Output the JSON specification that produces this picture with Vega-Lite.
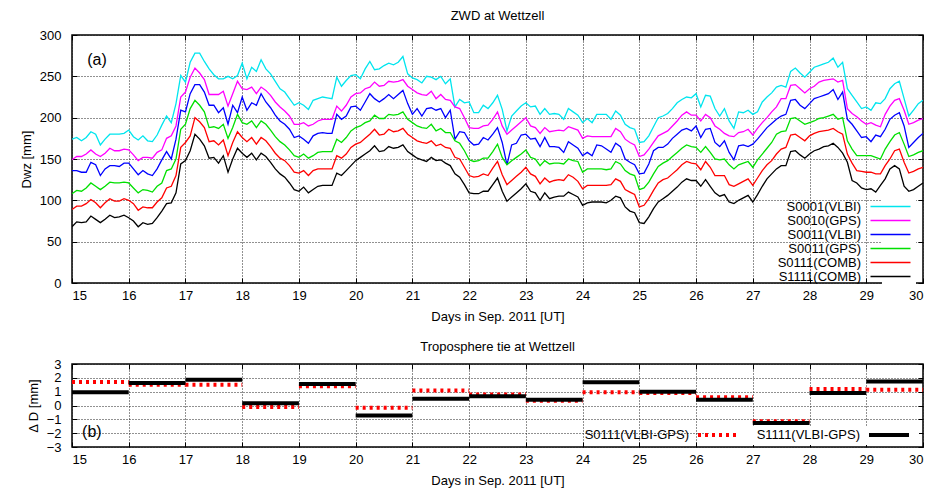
{
"$schema": "https://vega.github.io/schema/vega-lite/v6.json",
"padding": {"left": 19, "top": 9, "right": 5, "bottom": 5},
"spacing": 16,
"resolve": {"scale": {"color": "independent", "strokeDash": "independent"}, "legend": {"color": "independent", "strokeDash": "independent"}},
"config": {
  "font": "Liberation Sans",
  "view": {"stroke": "black", "strokeWidth": 1.5},
  "axis": {"domain": false, "grid": true, "gridColor": "#222", "gridDash": [1, 2], "gridOpacity": 1, "gridWidth": 1, "tickColor": "black", "tickSize": -5, "tickWidth": 1, "labelOverlap": false, "labelFont": "Liberation Sans", "labelFontSize": 13, "labelColor": "black", "titleFont": "Liberation Sans", "titleFontSize": 13, "titleFontWeight": "normal", "titleColor": "black"},
  "title": {"font": "Liberation Sans", "fontSize": 13, "fontWeight": "normal", "color": "black"}
},
"vconcat": [
{
  "width": 851, "height": 248,
  "title": {"text": "ZWD at Wettzell", "offset": 6},
  "layer": [
  {
    "data": {"values": [
{"t":15,"a":174,"b":149,"c":136,"d":108,"e":89,"f":68},
{"t":15.083,"a":176,"b":153,"c":136,"d":112,"e":93,"f":74},
{"t":15.167,"a":172,"b":153,"c":134,"d":111,"e":93,"f":73},
{"t":15.25,"a":176,"b":156,"c":134,"d":115,"e":96,"f":74},
{"t":15.333,"a":183,"b":161,"c":146,"d":121,"e":101,"f":81},
{"t":15.417,"a":180,"b":156,"c":143,"d":117,"e":97,"f":77},
{"t":15.5,"a":167,"b":153,"c":130,"d":113,"e":91,"f":73},
{"t":15.583,"a":174,"b":157,"c":138,"d":117,"e":97,"f":77},
{"t":15.667,"a":180,"b":163,"c":142,"d":122,"e":102,"f":82},
{"t":15.75,"a":180,"b":160,"c":142,"d":121,"e":99,"f":79},
{"t":15.833,"a":180,"b":160,"c":141,"d":121,"e":99,"f":80},
{"t":15.917,"a":181,"b":162,"c":145,"d":122,"e":102,"f":82},
{"t":16,"a":185,"b":161,"c":145,"d":121,"e":100,"f":79},
{"t":16.083,"a":177,"b":155,"c":138,"d":115,"e":96,"f":75},
{"t":16.167,"a":173,"b":148,"c":131,"d":109,"e":88,"f":68},
{"t":16.25,"a":178,"b":152,"c":136,"d":113,"e":92,"f":73},
{"t":16.333,"a":172,"b":152,"c":132,"d":112,"e":91,"f":71},
{"t":16.417,"a":171,"b":151,"c":130,"d":110,"e":91,"f":72},
{"t":16.5,"a":179,"b":158,"c":138,"d":117,"e":98,"f":79},
{"t":16.583,"a":191,"b":161,"c":149,"d":121,"e":103,"f":87},
{"t":16.667,"a":202,"b":175,"c":159,"d":136,"e":115,"f":96},
{"t":16.75,"a":194,"b":178,"c":150,"d":138,"e":117,"f":97},
{"t":16.833,"a":217,"b":190,"c":174,"d":150,"e":130,"f":109},
{"t":16.917,"a":251,"b":225,"c":209,"d":186,"e":164,"f":144},
{"t":17,"a":243,"b":231,"c":207,"d":192,"e":170,"f":148},
{"t":17.083,"a":267,"b":249,"c":229,"d":211,"e":178,"f":160},
{"t":17.167,"a":278,"b":260,"c":240,"d":221,"e":200,"f":180},
{"t":17.25,"a":278,"b":254,"c":240,"d":215,"e":195,"f":174},
{"t":17.333,"a":268,"b":246,"c":231,"d":207,"e":188,"f":166},
{"t":17.417,"a":259,"b":228,"c":215,"d":188,"e":171,"f":151},
{"t":17.5,"a":252,"b":228,"c":215,"d":189,"e":172,"f":152},
{"t":17.583,"a":247,"b":228,"c":206,"d":187,"e":167,"f":145},
{"t":17.667,"a":247,"b":232,"c":212,"d":192,"e":173,"f":154},
{"t":17.75,"a":250,"b":214,"c":192,"d":175,"e":154,"f":134},
{"t":17.833,"a":247,"b":229,"c":215,"d":188,"e":170,"f":150},
{"t":17.917,"a":251,"b":244,"c":206,"d":204,"e":183,"f":163},
{"t":18,"a":266,"b":235,"c":225,"d":194,"e":176,"f":157},
{"t":18.083,"a":247,"b":234,"c":209,"d":192,"e":171,"f":152},
{"t":18.167,"a":261,"b":237,"c":218,"d":196,"e":176,"f":157},
{"t":18.25,"a":256,"b":229,"c":215,"d":188,"e":168,"f":149},
{"t":18.333,"a":270,"b":237,"c":229,"d":196,"e":176,"f":157},
{"t":18.417,"a":259,"b":233,"c":219,"d":192,"e":172,"f":153},
{"t":18.5,"a":253,"b":227,"c":212,"d":185,"e":165,"f":146},
{"t":18.583,"a":244,"b":219,"c":203,"d":177,"e":157,"f":138},
{"t":18.667,"a":235,"b":213,"c":196,"d":171,"e":151,"f":132},
{"t":18.75,"a":231,"b":208,"c":192,"d":167,"e":148,"f":128},
{"t":18.833,"a":223,"b":202,"c":186,"d":161,"e":142,"f":121},
{"t":18.917,"a":215,"b":192,"c":176,"d":154,"e":134,"f":113},
{"t":19,"a":218,"b":192,"c":178,"d":152,"e":133,"f":111},
{"t":19.083,"a":215,"b":194,"c":174,"d":156,"e":136,"f":116},
{"t":19.167,"a":210,"b":190,"c":169,"d":151,"e":130,"f":109},
{"t":19.25,"a":221,"b":192,"c":178,"d":154,"e":136,"f":113},
{"t":19.333,"a":223,"b":196,"c":181,"d":158,"e":138,"f":117},
{"t":19.417,"a":225,"b":198,"c":182,"d":159,"e":138,"f":118},
{"t":19.5,"a":224,"b":198,"c":181,"d":159,"e":138,"f":118},
{"t":19.583,"a":223,"b":198,"c":181,"d":159,"e":138,"f":118},
{"t":19.667,"a":249,"b":214,"c":204,"d":174,"e":154,"f":133},
{"t":19.75,"a":238,"b":208,"c":198,"d":170,"e":151,"f":130},
{"t":19.833,"a":245,"b":215,"c":202,"d":176,"e":156,"f":136},
{"t":19.917,"a":251,"b":225,"c":213,"d":184,"e":164,"f":142},
{"t":20,"a":252,"b":229,"c":214,"d":188,"e":168,"f":148},
{"t":20.083,"a":247,"b":230,"c":209,"d":190,"e":170,"f":152},
{"t":20.167,"a":259,"b":235,"c":219,"d":194,"e":175,"f":156},
{"t":20.25,"a":268,"b":237,"c":229,"d":196,"e":180,"f":160},
{"t":20.333,"a":258,"b":243,"c":223,"d":203,"e":186,"f":166},
{"t":20.417,"a":259,"b":238,"c":219,"d":199,"e":179,"f":159},
{"t":20.5,"a":263,"b":239,"c":223,"d":199,"e":180,"f":160},
{"t":20.583,"a":266,"b":244,"c":228,"d":204,"e":186,"f":165},
{"t":20.667,"a":264,"b":243,"c":223,"d":203,"e":183,"f":163},
{"t":20.75,"a":267,"b":244,"c":228,"d":204,"e":184,"f":164},
{"t":20.833,"a":274,"b":246,"c":233,"d":207,"e":187,"f":167},
{"t":20.917,"a":253,"b":238,"c":217,"d":198,"e":180,"f":159},
{"t":21,"a":248,"b":234,"c":204,"d":194,"e":176,"f":155},
{"t":21.083,"a":246,"b":230,"c":211,"d":190,"e":172,"f":151},
{"t":21.167,"a":242,"b":228,"c":202,"d":188,"e":170,"f":149},
{"t":21.25,"a":250,"b":227,"c":211,"d":187,"e":169,"f":147},
{"t":21.333,"a":249,"b":232,"c":212,"d":192,"e":172,"f":152},
{"t":21.417,"a":246,"b":223,"c":209,"d":184,"e":166,"f":148},
{"t":21.5,"a":250,"b":228,"c":211,"d":187,"e":168,"f":149},
{"t":21.583,"a":241,"b":222,"c":200,"d":182,"e":164,"f":145},
{"t":21.667,"a":247,"b":221,"c":209,"d":182,"e":163,"f":142},
{"t":21.75,"a":213,"b":213,"c":174,"d":172,"e":152,"f":132},
{"t":21.833,"a":222,"b":211,"c":183,"d":169,"e":150,"f":128},
{"t":21.917,"a":218,"b":200,"c":182,"d":160,"e":140,"f":119},
{"t":22,"a":219,"b":188,"c":172,"d":149,"e":130,"f":109},
{"t":22.083,"a":206,"b":187,"c":167,"d":147,"e":128,"f":108},
{"t":22.167,"a":206,"b":187,"c":168,"d":148,"e":129,"f":108},
{"t":22.25,"a":215,"b":190,"c":176,"d":151,"e":132,"f":111},
{"t":22.333,"a":211,"b":191,"c":173,"d":151,"e":130,"f":111},
{"t":22.417,"a":218,"b":198,"c":180,"d":159,"e":139,"f":119},
{"t":22.5,"a":227,"b":207,"c":188,"d":168,"e":147,"f":127},
{"t":22.583,"a":210,"b":190,"c":170,"d":152,"e":131,"f":111},
{"t":22.667,"a":184,"b":180,"c":143,"d":143,"e":119,"f":99},
{"t":22.75,"a":202,"b":185,"c":167,"d":148,"e":124,"f":104},
{"t":22.833,"a":208,"b":190,"c":169,"d":152,"e":129,"f":109},
{"t":22.917,"a":214,"b":195,"c":179,"d":156,"e":134,"f":114},
{"t":23,"a":218,"b":200,"c":180,"d":161,"e":140,"f":120},
{"t":23.083,"a":213,"b":190,"c":174,"d":152,"e":132,"f":111},
{"t":23.167,"a":214,"b":188,"c":175,"d":150,"e":129,"f":109},
{"t":23.25,"a":204,"b":181,"c":165,"d":142,"e":120,"f":100},
{"t":23.333,"a":211,"b":188,"c":176,"d":148,"e":127,"f":109},
{"t":23.417,"a":204,"b":183,"c":165,"d":144,"e":122,"f":102},
{"t":23.5,"a":205,"b":184,"c":165,"d":145,"e":124,"f":104},
{"t":23.583,"a":204,"b":185,"c":164,"d":145,"e":125,"f":105},
{"t":23.667,"a":198,"b":184,"c":158,"d":144,"e":124,"f":105},
{"t":23.75,"a":211,"b":189,"c":171,"d":150,"e":131,"f":110},
{"t":23.833,"a":207,"b":187,"c":167,"d":148,"e":128,"f":107},
{"t":23.917,"a":203,"b":185,"c":163,"d":147,"e":123,"f":104},
{"t":24,"a":194,"b":175,"c":154,"d":134,"e":114,"f":94},
{"t":24.083,"a":199,"b":178,"c":158,"d":138,"e":118,"f":97},
{"t":24.167,"a":194,"b":177,"c":154,"d":138,"e":118,"f":98},
{"t":24.25,"a":204,"b":177,"c":167,"d":138,"e":118,"f":98},
{"t":24.333,"a":204,"b":177,"c":166,"d":138,"e":118,"f":98},
{"t":24.417,"a":204,"b":177,"c":162,"d":137,"e":118,"f":97},
{"t":24.5,"a":198,"b":177,"c":158,"d":138,"e":119,"f":100},
{"t":24.583,"a":208,"b":187,"c":169,"d":147,"e":126,"f":105},
{"t":24.667,"a":203,"b":183,"c":165,"d":144,"e":123,"f":103},
{"t":24.75,"a":192,"b":174,"c":150,"d":136,"e":113,"f":92},
{"t":24.833,"a":188,"b":170,"c":146,"d":132,"e":110,"f":87},
{"t":24.917,"a":186,"b":167,"c":143,"d":130,"e":107,"f":85},
{"t":25,"a":170,"b":153,"c":132,"d":113,"e":92,"f":73},
{"t":25.083,"a":171,"b":155,"c":133,"d":115,"e":94,"f":72},
{"t":25.167,"a":178,"b":162,"c":144,"d":122,"e":102,"f":80},
{"t":25.25,"a":189,"b":170,"c":160,"d":132,"e":112,"f":90},
{"t":25.333,"a":200,"b":178,"c":164,"d":141,"e":121,"f":98},
{"t":25.417,"a":202,"b":181,"c":164,"d":145,"e":125,"f":102},
{"t":25.5,"a":205,"b":184,"c":168,"d":148,"e":127,"f":106},
{"t":25.583,"a":211,"b":190,"c":175,"d":153,"e":132,"f":111},
{"t":25.667,"a":218,"b":196,"c":180,"d":158,"e":137,"f":116},
{"t":25.75,"a":222,"b":203,"c":185,"d":163,"e":143,"f":122},
{"t":25.833,"a":225,"b":207,"c":187,"d":167,"e":147,"f":126},
{"t":25.917,"a":224,"b":203,"c":184,"d":165,"e":145,"f":124},
{"t":26,"a":229,"b":203,"c":190,"d":164,"e":144,"f":124},
{"t":26.083,"a":213,"b":196,"c":176,"d":158,"e":137,"f":117},
{"t":26.167,"a":227,"b":204,"c":186,"d":165,"e":147,"f":125},
{"t":26.25,"a":226,"b":200,"c":187,"d":158,"e":140,"f":117},
{"t":26.333,"a":211,"b":190,"c":170,"d":150,"e":130,"f":109},
{"t":26.417,"a":202,"b":186,"c":165,"d":149,"e":130,"f":105},
{"t":26.5,"a":211,"b":181,"c":172,"d":150,"e":130,"f":107},
{"t":26.583,"a":196,"b":178,"c":158,"d":143,"e":119,"f":98},
{"t":26.667,"a":187,"b":177,"c":149,"d":138,"e":117,"f":96},
{"t":26.75,"a":207,"b":182,"c":166,"d":143,"e":120,"f":100},
{"t":26.833,"a":206,"b":183,"c":167,"d":145,"e":123,"f":103},
{"t":26.917,"a":209,"b":186,"c":165,"d":147,"e":126,"f":106},
{"t":27,"a":204,"b":179,"c":168,"d":140,"e":118,"f":98},
{"t":27.083,"a":207,"b":187,"c":174,"d":149,"e":127,"f":107},
{"t":27.167,"a":219,"b":194,"c":181,"d":156,"e":136,"f":117},
{"t":27.25,"a":225,"b":200,"c":188,"d":163,"e":143,"f":126},
{"t":27.333,"a":230,"b":207,"c":193,"d":170,"e":148,"f":132},
{"t":27.417,"a":237,"b":213,"c":198,"d":180,"e":156,"f":138},
{"t":27.5,"a":239,"b":223,"c":202,"d":183,"e":162,"f":142},
{"t":27.583,"a":237,"b":223,"c":204,"d":184,"e":164,"f":142},
{"t":27.667,"a":256,"b":239,"c":221,"d":199,"e":179,"f":159},
{"t":27.75,"a":260,"b":240,"c":222,"d":200,"e":180,"f":160},
{"t":27.833,"a":254,"b":235,"c":215,"d":196,"e":176,"f":155},
{"t":27.917,"a":249,"b":230,"c":211,"d":192,"e":172,"f":151},
{"t":28,"a":255,"b":235,"c":217,"d":194,"e":178,"f":156},
{"t":28.083,"a":261,"b":238,"c":223,"d":196,"e":181,"f":160},
{"t":28.167,"a":263,"b":243,"c":225,"d":199,"e":183,"f":162},
{"t":28.25,"a":265,"b":245,"c":227,"d":200,"e":184,"f":165},
{"t":28.333,"a":267,"b":246,"c":229,"d":202,"e":185,"f":166},
{"t":28.417,"a":272,"b":247,"c":234,"d":204,"e":187,"f":169},
{"t":28.5,"a":261,"b":243,"c":222,"d":198,"e":183,"f":164},
{"t":28.583,"a":267,"b":245,"c":231,"d":200,"e":180,"f":157},
{"t":28.667,"a":235,"b":211,"c":198,"d":172,"e":156,"f":146},
{"t":28.75,"a":227,"b":205,"c":192,"d":162,"e":145,"f":124},
{"t":28.833,"a":219,"b":201,"c":184,"d":154,"e":136,"f":121},
{"t":28.917,"a":211,"b":196,"c":176,"d":154,"e":135,"f":115},
{"t":29,"a":213,"b":192,"c":177,"d":154,"e":134,"f":113},
{"t":29.083,"a":209,"b":194,"c":171,"d":154,"e":134,"f":114},
{"t":29.167,"a":218,"b":191,"c":179,"d":152,"e":132,"f":110},
{"t":29.25,"a":217,"b":189,"c":177,"d":150,"e":132,"f":118},
{"t":29.333,"a":223,"b":204,"c":186,"d":162,"e":142,"f":126},
{"t":29.417,"a":235,"b":214,"c":198,"d":171,"e":150,"f":138},
{"t":29.5,"a":241,"b":221,"c":203,"d":179,"e":160,"f":142},
{"t":29.583,"a":244,"b":223,"c":206,"d":182,"e":162,"f":138},
{"t":29.667,"a":223,"b":209,"c":190,"d":168,"e":146,"f":117},
{"t":29.75,"a":202,"b":192,"c":164,"d":153,"e":133,"f":111},
{"t":29.833,"a":209,"b":194,"c":170,"d":155,"e":135,"f":113},
{"t":29.917,"a":217,"b":197,"c":176,"d":158,"e":138,"f":117},
{"t":30,"a":221,"b":199,"c":181,"d":160,"e":140,"f":121}
    ]},
    "transform": [{"fold": ["a", "b", "c", "d", "e", "f"], "as": ["s", "v"]}],
    "mark": {"type": "line", "strokeWidth": 1.3, "clip": true},
    "encoding": {
      "x": {"field": "t", "type": "quantitative", "scale": {"domain": [15, 30], "nice": false, "zero": false},
            "axis": {"orient": "bottom", "values": [15,16,17,18,19,20,21,22,23,24,25,26,27,28,29,30], "format": "d", "title": "Days in Sep. 2011 [UT]", "labelPadding": 11, "titlePadding": 8}},
      "y": {"field": "v", "type": "quantitative", "scale": {"domain": [0, 300], "nice": false},
            "axis": {"orient": "left", "values": [0,50,100,150,200,250,300], "title": "Dwz [mm]", "labelPadding": 16, "titlePadding": 6}},
      "color": {"field": "s", "type": "nominal",
        "scale": {"domain": ["a", "b", "c", "d", "e", "f"], "range": ["#00e5ee", "#ff00ff", "#0000ff", "#00e000", "#ff0000", "#000000"]},
        "legend": {"title": null, "orient": "none", "legendX": 810, "legendY": 163, "direction": "vertical",
          "symbolType": "M-4,0H4", "symbolSize": 100, "symbolStrokeWidth": 1.5,
          "labelAlign": "right", "labelOffset": -36, "labelFontSize": 13, "labelColor": "black", "rowPadding": 0,
          "fillColor": "white", "padding": 2,
          "labelExpr": "datum.label=='a'?'S0001(VLBI)':datum.label=='b'?'S0010(GPS)':datum.label=='c'?'S0011(VLBI)':datum.label=='d'?'S0011(GPS)':datum.label=='e'?'S0111(COMB)':'S1111(COMB)'"}}
    }
  },
  {
    "data": {"values": [{}]},
    "mark": {"type": "text", "text": "(a)", "fontSize": 16, "font": "Liberation Sans"},
    "encoding": {
      "x": {"datum": 15.44, "type": "quantitative", "axis": {"orient": "top", "values": [15,16,17,18,19,20,21,22,23,24,25,26,27,28,29,30], "labels": false, "title": null, "grid": false}},
      "y": {"datum": 270, "type": "quantitative", "axis": {"orient": "right", "values": [0,50,100,150,200,250,300], "labels": false, "title": null, "grid": false}}
    }
  }
  ]
},
{
  "width": 851, "height": 83,
  "title": {"text": "Troposphere tie at Wettzell", "offset": 4},
  "layer": [
  {
    "data": {"values": [
{"day":15,"end":16,"s":"S0111(VLBI-GPS)","v":1.7},
{"day":16,"end":17,"s":"S0111(VLBI-GPS)","v":1.5},
{"day":17,"end":18,"s":"S0111(VLBI-GPS)","v":1.5},
{"day":18,"end":19,"s":"S0111(VLBI-GPS)","v":-0.1},
{"day":19,"end":20,"s":"S0111(VLBI-GPS)","v":1.4},
{"day":20,"end":21,"s":"S0111(VLBI-GPS)","v":-0.17},
{"day":21,"end":22,"s":"S0111(VLBI-GPS)","v":1.08},
{"day":22,"end":23,"s":"S0111(VLBI-GPS)","v":0.8},
{"day":23,"end":24,"s":"S0111(VLBI-GPS)","v":0.35},
{"day":24,"end":25,"s":"S0111(VLBI-GPS)","v":0.96},
{"day":25,"end":26,"s":"S0111(VLBI-GPS)","v":0.9},
{"day":26,"end":27,"s":"S0111(VLBI-GPS)","v":0.6},
{"day":27,"end":28,"s":"S0111(VLBI-GPS)","v":-1.13},
{"day":28,"end":29,"s":"S0111(VLBI-GPS)","v":1.2},
{"day":29,"end":30,"s":"S0111(VLBI-GPS)","v":1.13},
{"day":15,"end":16,"s":"S1111(VLBI-GPS)","v":0.96},
{"day":16,"end":17,"s":"S1111(VLBI-GPS)","v":1.63},
{"day":17,"end":18,"s":"S1111(VLBI-GPS)","v":1.87},
{"day":18,"end":19,"s":"S1111(VLBI-GPS)","v":0.17},
{"day":19,"end":20,"s":"S1111(VLBI-GPS)","v":1.56},
{"day":20,"end":21,"s":"S1111(VLBI-GPS)","v":-0.72},
{"day":21,"end":22,"s":"S1111(VLBI-GPS)","v":0.48},
{"day":22,"end":23,"s":"S1111(VLBI-GPS)","v":0.67},
{"day":23,"end":24,"s":"S1111(VLBI-GPS)","v":0.41},
{"day":24,"end":25,"s":"S1111(VLBI-GPS)","v":1.68},
{"day":25,"end":26,"s":"S1111(VLBI-GPS)","v":1.0},
{"day":26,"end":27,"s":"S1111(VLBI-GPS)","v":0.41},
{"day":27,"end":28,"s":"S1111(VLBI-GPS)","v":-1.27},
{"day":28,"end":29,"s":"S1111(VLBI-GPS)","v":0.91},
{"day":29,"end":30,"s":"S1111(VLBI-GPS)","v":1.73}
    ]},
    "mark": {"type": "rule", "strokeWidth": 4, "strokeCap": "butt"},
    "encoding": {
      "x": {"field": "day", "type": "quantitative", "scale": {"domain": [15, 30], "nice": false, "zero": false},
            "axis": {"orient": "bottom", "values": [15,16,17,18,19,20,21,22,23,24,25,26,27,28,29,30], "format": "d", "title": "Days in Sep. 2011 [UT]", "labelPadding": 11, "titlePadding": 8}},
      "x2": {"field": "end"},
      "y": {"field": "v", "type": "quantitative", "scale": {"domain": [-3, 3], "nice": false, "zero": false},
            "axis": {"orient": "left", "values": [-3,-2,-1,0,1,2,3], "format": "d", "title": "Δ D [mm]", "labelPadding": 16, "titlePadding": 6}},
      "color": {"field": "s", "type": "nominal", "scale": {"domain": ["S0111(VLBI-GPS)", "S1111(VLBI-GPS)"], "range": ["#ff0000", "#000000"]},
        "legend": {"title": null, "orient": "none", "legendX": 637, "legendY": 62, "direction": "horizontal",
          "symbolType": "M-4,0H4", "symbolSize": 100, "symbolStrokeWidth": 4,
          "labelAlign": "right", "labelOffset": -36, "labelFontSize": 13, "labelColor": "black", "columnPadding": 10,
          "fillColor": "white", "padding": 2}},
      "strokeDash": {"field": "s", "type": "nominal", "scale": {"domain": ["S0111(VLBI-GPS)", "S1111(VLBI-GPS)"], "range": [[3, 4], [1, 0]]},
        "legend": {"title": null, "orient": "none", "legendX": 637, "legendY": 62, "direction": "horizontal",
          "symbolType": "M-4,0H4", "symbolSize": 100, "symbolStrokeWidth": 4,
          "labelAlign": "right", "labelOffset": -36, "labelFontSize": 13, "labelColor": "black", "columnPadding": 10,
          "fillColor": "white", "padding": 2}}
    }
  },
  {
    "data": {"values": [{}]},
    "mark": {"type": "text", "text": "(b)", "fontSize": 16, "font": "Liberation Sans"},
    "encoding": {
      "x": {"datum": 15.35, "type": "quantitative", "axis": {"orient": "top", "values": [15,16,17,18,19,20,21,22,23,24,25,26,27,28,29,30], "labels": false, "title": null, "grid": false}},
      "y": {"datum": -1.9, "type": "quantitative", "axis": {"orient": "right", "values": [-3,-2,-1,0,1,2,3], "labels": false, "title": null, "grid": false}}
    }
  }
  ]
}
]
}
